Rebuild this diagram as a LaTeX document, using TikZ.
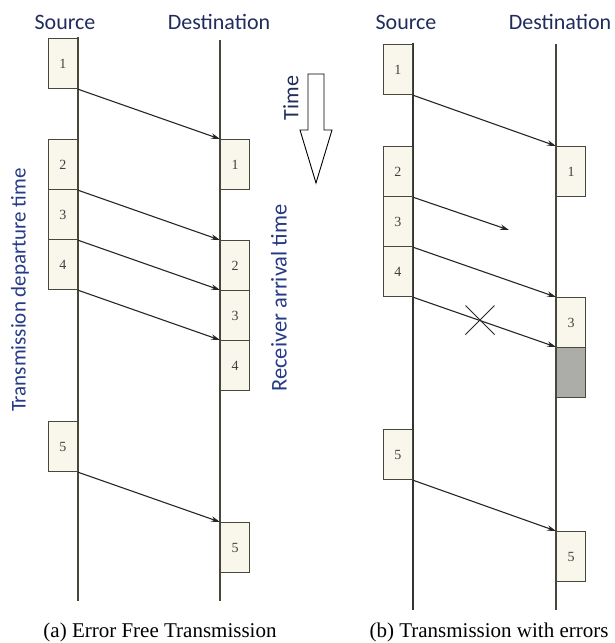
\documentclass[tikz,border=0pt]{standalone}
\usepackage{fontspec}
\setmainfont{Liberation Serif}
\newfontfamily\labelfont{Carlito}
\usetikzlibrary{shapes.misc,arrows.meta}
\definecolor{lineol}{RGB}{72,72,58}
\definecolor{boxfill}{RGB}{249,247,236}
\definecolor{errfill}{RGB}{172,172,168}
\definecolor{headnavy}{RGB}{32,44,92}
\definecolor{labblue}{RGB}{38,58,135}

\begin{document}
\begin{tikzpicture}[x=1pt,y=-1pt,
  timeline/.style={draw=lineol, line width=1.3pt},
  frame/.style={draw=lineol, line width=1.2pt, fill=boxfill,
    minimum width=29pt, minimum height=50pt, inner sep=0pt,
    font=\fontsize{14}{14}\selectfont, text=black!75},
  errframe/.style={frame, fill=errfill},
  msg/.style={draw=black!85, line width=1.1pt, -{Stealth[length=9pt,width=5.5pt]}},
  head/.style={font=\labelfont\fontsize{22}{22}\selectfont, text=headnavy},
  axislabel/.style={text=labblue, rotate=90},
  caption/.style={font=\fontsize{21}{21}\selectfont, text=black}]

\useasboundingbox (0,0) rectangle (614,643);

% ---------- (a) error free transmission ----------
\coordinate (aSt) at (78,37);  \coordinate (aSb) at (78,601);
\coordinate (aDt) at (220,40); \coordinate (aDb) at (220,601);
\draw[timeline] (aSt) -- (aSb);
\draw[timeline] (aDt) -- (aDb);

\node[frame, anchor=north east] (as1) at (78,38)  {1};
\node[frame, anchor=north east] (as2) at (78,139) {2};
\node[frame, anchor=north east] (as3) at (78,189) {3};
\node[frame, anchor=north east] (as4) at (78,239) {4};
\node[frame, anchor=north east] (as5) at (78,421) {5};

\node[frame, anchor=north west] (ad1) at (220,139) {1};
\node[frame, anchor=north west] (ad2) at (220,240) {2};
\node[frame, anchor=north west] (ad3) at (220,290) {3};
\node[frame, anchor=north west] (ad4) at (220,340) {4};
\node[frame, anchor=north west] (ad5) at (220,522) {5};

\draw[msg] (as1.south east) -- (ad1.north west);
\draw[msg] (as2.south east) -- (ad2.north west);
\draw[msg] (as3.south east) -- (ad3.north west);
\draw[msg] (as4.south east) -- (ad4.north west);
\draw[msg] (as5.south east) -- (ad5.north west);

\node[head] (aSrc) at (65,22) {Source};
\node[head] (aDst) at (219,22) {Destination};
\node[axislabel, font=\labelfont\fontsize{21}{21}\selectfont] (depart) at (20,290) {Transmission departure time};
\node[axislabel, font=\labelfont\fontsize{22.5}{22.5}\selectfont] (arrive) at (279,298) {Receiver arrival time};
\node[caption] (capA) at (160,632) {(a) Error Free Transmission};

% ---------- time direction arrow ----------
\draw[line width=0.9pt, black] (308,74) -- (324,74) -- (324,130) -- (332,130)
  -- (316,183) -- (300,130) -- (308,130) -- cycle;
\node[head, rotate=90] (timelbl) at (291,98) {Time};

% ---------- (b) transmission with errors ----------
\coordinate (bSt) at (413,43); \coordinate (bSb) at (413,610);
\coordinate (bDt) at (556,44); \coordinate (bDb) at (556,610);
\draw[timeline, draw=black!80] (bSt) -- (bSb);
\draw[timeline] (bDt) -- (bDb);

\node[frame, anchor=north east] (bs1) at (413,44)  {1};
\node[frame, anchor=north east] (bs2) at (413,146) {2};
\node[frame, anchor=north east] (bs3) at (413,196) {3};
\node[frame, anchor=north east] (bs4) at (413,246) {4};
\node[frame, anchor=north east] (bs5) at (413,429) {5};

\node[frame, anchor=north west] (bd1) at (556,146) {1};
\node[frame, anchor=north west] (bd3) at (556,297) {3};
\node[errframe, anchor=north west] (bd4) at (556,347) {};
\node[frame, anchor=north west] (bd5) at (556,531) {5};

\coordinate (lost) at (509,230);
\node[cross out, draw=black!85, line width=1pt, minimum size=28pt, inner sep=0pt] (hit) at (480,320) {};

\draw[msg] (bs1.south east) -- (bd1.north west);
\draw[msg] (bs2.south east) -- (lost);
\draw[msg] (bs3.south east) -- (bd3.north west);
\draw[msg] (bs4.south east) -- (bd4.north west);
\draw[msg] (bs5.south east) -- (bd5.north west);

\node[head] (bSrc) at (406,22) {Source};
\node[head] (bDst) at (560,22) {Destination};
\node[caption] (capB) at (489,632) {(b) Transmission with errors};

\end{tikzpicture}
\end{document}
